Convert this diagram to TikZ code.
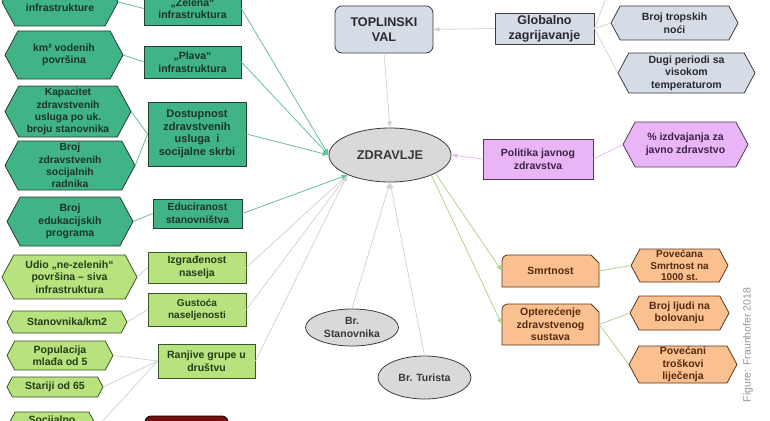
\documentclass[tikz,border=0pt]{standalone}
\usepackage{fontspec}
\setmainfont{Liberation Sans}
\usetikzlibrary{shapes.geometric,arrows.meta,calc}

\definecolor{dgfill}{RGB}{64,180,134}
\definecolor{dgline}{RGB}{40,60,50}
\definecolor{dgtext}{RGB}{28,52,40}
\definecolor{lgfill}{RGB}{183,226,125}
\definecolor{lgline}{RGB}{60,85,40}
\definecolor{lgtext}{RGB}{35,62,25}
\definecolor{bgfill}{RGB}{214,220,229}
\definecolor{bgline}{RGB}{60,60,65}
\definecolor{bgtext}{RGB}{40,40,45}
\definecolor{lvfill}{RGB}{233,181,247}
\definecolor{lvline}{RGB}{80,60,85}
\definecolor{lvtext}{RGB}{60,35,70}
\definecolor{orfill}{RGB}{250,192,143}
\definecolor{orline}{RGB}{90,55,30}
\definecolor{ortext}{RGB}{85,42,15}
\definecolor{elfill}{RGB}{217,217,217}
\definecolor{elline}{RGB}{60,60,60}
\definecolor{redfill}{RGB}{118,16,16}
\definecolor{teal1}{RGB}{100,192,160}
\definecolor{gray1}{RGB}{208,208,208}
\definecolor{lav1}{RGB}{226,190,240}
\definecolor{grn1}{RGB}{176,214,140}
\definecolor{capgray}{RGB}{150,150,150}

\newcommand{\hexnode}[7][]{%
  \pgfmathsetmacro\hxl{#4-#6/2}%
  \pgfmathsetmacro\hxr{#4+#6/2}%
  \pgfmathsetmacro\hyt{#5-#7/2}%
  \pgfmathsetmacro\hyb{#5+#7/2}%
  \pgfmathsetmacro\hin{0.27*#7}%
  \path[#2shape] (\hxl,#5) -- ({\hxl+\hin},\hyt) -- ({\hxr-\hin},\hyt) -- (\hxr,#5) -- ({\hxr-\hin},\hyb) -- ({\hxl+\hin},\hyb) -- cycle;
  \node[#2txt,#1,minimum width=#6,minimum height=#7] (#3) at (#4,#5)}

\newcommand{\snipnode}[6][]{%
  \pgfmathsetmacro\hxl{#3-#5/2}%
  \pgfmathsetmacro\hxr{#3+#5/2}%
  \pgfmathsetmacro\hyt{#4-#6/2}%
  \pgfmathsetmacro\hyb{#4+#6/2}%
  \path[orshape] (\hxl,\hyb) -- (\hxl,{\hyt+6}) arc[start angle=180,end angle=270,radius=6] -- ({\hxr-8},\hyt) -- (\hxr,{\hyt+8}) -- (\hxr,\hyb) -- cycle;
  \node[ortxt,#1,minimum width=#5,minimum height=#6] (#2) at (#3,#4)}

\tikzset{
  base/.style={inner sep=0pt, align=center, font=\bfseries\fontsize{10.5}{12.5}\selectfont},
  dgshape/.style={fill=dgfill, draw=dgline, line width=0.8pt},
  dgtxt/.style={base, text=dgtext},
  dgbox/.style={dgshape, dgtxt},
  lgshape/.style={fill=lgfill, draw=lgline, line width=0.8pt},
  lgtxt/.style={base, text=lgtext},
  lgbox/.style={lgshape, lgtxt},
  bgshape/.style={fill=bgfill, draw=bgline, line width=0.8pt},
  bgtxt/.style={base, text=bgtext},
  bgbox/.style={bgshape, bgtxt},
  lvshape/.style={fill=lvfill, draw=lvline, line width=0.8pt},
  lvtxt/.style={base, text=lvtext},
  lvbox/.style={lvshape, lvtxt},
  orshape/.style={fill=orfill, draw=orline, line width=0.8pt},
  ortxt/.style={base, text=ortext},
  elnode/.style={ellipse, fill=elfill, draw=elline, line width=0.8pt, base, text=black!78},
  tip/.style={-{Latex[length=6pt,width=5pt]}},
  tealln/.style={draw=teal1, line width=0.8pt},
  grayln/.style={draw=gray1, line width=0.7pt},
  lavln/.style={draw=lav1, line width=0.8pt},
  grnln/.style={draw=grn1, line width=0.8pt},
}

\begin{document}
\begin{tikzpicture}[x=1pt,y=-1pt]
\useasboundingbox (0,0) rectangle (770,420);
\clip (0,0) rectangle (770,420);
\fill[white] (0,0) rectangle (770,420);

% ---- left dark green hexagons
\hexnode{dg}{h1}{60}{2}{116}{48}{};
\node[dgtxt] (h1t) at (60,8) {infrastrukture};
\hexnode{dg}{h2}{64}{55}{118}{48}{km² vodenih\\površina};
\hexnode[font=\bfseries\fontsize{10.3}{12.3}\selectfont]{dg}{h3}{68}{111.5}{126}{51}{Kapacitet\\zdravstvenih\\usluga po uk.\\broju stanovnika};
\hexnode[font=\bfseries\fontsize{10.3}{12.3}\selectfont]{dg}{h4}{70}{165.5}{130}{49}{Broj\\zdravstvenih\\socijalnih\\radnika};
\hexnode{dg}{h5}{70}{221.5}{126}{49}{Broj\\edukacijskih\\programa};

% ---- dark green boxes
\node[dgbox, minimum width=97, minimum height=33] (b1) at (192.5,8.5) {„Zelena“\\infrastruktura};
\node[dgbox, minimum width=97, minimum height=32] (b2) at (192.5,62) {„Plava“\\infrastruktura};
\node[dgbox, minimum width=98, minimum height=64, font=\bfseries\fontsize{11}{12.7}\selectfont] (b3) at (197,134) {Dostupnost\\zdravstvenih\\usluga~ i\\socijalne skrbi};
\node[dgbox, minimum width=89, minimum height=29, font=\bfseries\fontsize{10.3}{13}\selectfont] (b4) at (197.5,213.5) {Educiranost\\stanovništva};

% ---- light green hexagons
\hexnode{lg}{l1}{69.5}{277}{135}{44}{Udio „ne-zelenih“\\površina – siva\\infrastruktura};
\hexnode{lg}{l2}{67}{322}{120}{22}{Stanovnika/km2};
\hexnode{lg}{l3}{60}{355.5}{106}{29}{Populacija\\mlađa od 5};
\hexnode{lg}{l4}{55}{387}{96}{20}{Stariji od 65};
\hexnode{lg}{l5}{52}{427}{90}{30}{};
\node[lgtxt] (l5t) at (52,421) {Socijalno};

% ---- light green boxes
\node[lgbox, minimum width=98, minimum height=31] (lb1) at (197,267.5) {Izgrađenost\\naselja};
\node[lgbox, minimum width=98, minimum height=33, font=\bfseries\fontsize{10}{12}\selectfont] (lb2) at (197,309.5) {Gustoća\\naseljenosti};
\node[lgbox, minimum width=97, minimum height=34] (lb3) at (206.5,361) {Ranjive grupe u\\društvu};
\node[draw=black, fill=redfill, line width=0.8pt, rounded corners=6pt, minimum width=83, minimum height=34] (rb) at (186.5,433) {};

% ---- centre
\node[bgbox, rounded corners=7pt, minimum width=98, minimum height=47, font=\bfseries\fontsize{12.6}{14.7}\selectfont] (tv) at (384,29.5) {TOPLINSKI\\VAL};
\node[elnode, minimum width=122, minimum height=54, font=\bfseries\fontsize{12.7}{14}\selectfont] (zd) at (390,155) {ZDRAVLJE};
\node[bgbox, minimum width=99, minimum height=31, font=\bfseries\fontsize{12.5}{15}\selectfont] (gz) at (544.5,28.5) {Globalno\\zagrijavanje};
\node[elnode, minimum width=93, minimum height=37] (bs) at (352,327.5) {Br.\\Stanovnika};
\node[elnode, minimum width=93, minimum height=43] (bt) at (424.5,377.5) {Br. Turista};

% ---- right
\hexnode{bg}{top}{675}{-25}{120}{40}{};
\hexnode{bg}{r1}{674.5}{23}{127}{34}{Broj tropskih\\noći};
\hexnode{bg}{r2}{686.5}{73}{137}{40}{Dugi periodi sa\\visokom\\temperaturom};
\node[lvbox, minimum width=110, minimum height=40] (pol) at (538,159) {Politika javnog\\zdravstva};
\hexnode{lv}{pi}{685.5}{144.5}{125}{45}{\% izdvajanja za\\javno zdravstvo};

\snipnode{sm}{550.5}{271}{97}{32}{Smrtnost};
\snipnode{op}{550.5}{324.5}{97}{41}{Opterećenje\\zdravstvenog\\sustava};
\hexnode[font=\bfseries\fontsize{10}{11.3}\selectfont]{or}{o1}{679.5}{265.5}{97}{33}{Povećana\\Smrtnost na\\1000 st.};
\hexnode{or}{o2}{679.5}{313}{99}{34}{Broj ljudi na\\bolovanju};
\hexnode[font=\bfseries\fontsize{10.5}{12.3}\selectfont]{or}{o3}{683}{364.5}{108}{37}{Povećani\\troškovi\\liječenja};

\node[rotate=90, inner sep=0pt, text=capgray, font=\fontsize{10.5}{12}\selectfont] (cap) at (748,345) {Figure: Fraunhofer 2018};

% ---- connectors
\draw[tealln] (h1.east) -- (b1.west);
\draw[tealln] (h2.east) -- (b2.west);
\draw[tealln] (h3.east) -- (b3.west);
\draw[tealln] (h4.east) -- (b3.west);
\draw[tealln] (h5.east) -- (b4.west);
\draw[tealln, tip] (b1.east) -- (zd.west);
\draw[tealln, tip] (b2.east) -- (zd.west);
\draw[tealln, tip] (b3.east) -- (zd.west);
\draw[grayln, tip] (lb1.east) -- (zd.205);
\draw[grayln, tip] (lb2.east) -- (zd.205);
\draw[grayln, tip] (lb3.east) -- (zd.205);
\draw[tealln, tip] (b4.east) -- (zd.205);
\draw[grayln] (l1.east) -- (lb1.west);
\draw[grayln] (l2.east) -- (lb2.west);
\draw[grayln] (l3.east) -- (lb3.west);
\draw[grayln] (l4.east) -- (lb3.west);
\draw[grayln] (l5.east) -- (lb3.west);
\draw[grayln, tip] (tv.south) -- (zd.north);
\draw[grayln, tip] (gz.west) -- (tv.east);
\draw[grayln] (gz.east) -- (r1.west);
\draw[grayln] (gz.east) -- (r2.west);
\draw[grayln] (gz.east) -- (top.west);
\draw[lavln, tip] (pol.west) -- (zd.east);
\draw[lavln] (pol.east) -- (pi.west);
\draw[grnln, tip] (zd.-22) -- (sm.west);
\draw[grnln, tip] (zd.-26) -- (op.west);
\draw[grnln] (sm.east) -- (o1.west);
\draw[grnln] (op.east) -- (o2.west);
\draw[grnln] (op.east) -- (o3.west);
\draw[grayln, tip] (bs.north) -- (zd.south);
\draw[grayln, tip] (bt.north) -- (zd.south);
\end{tikzpicture}
\end{document}
